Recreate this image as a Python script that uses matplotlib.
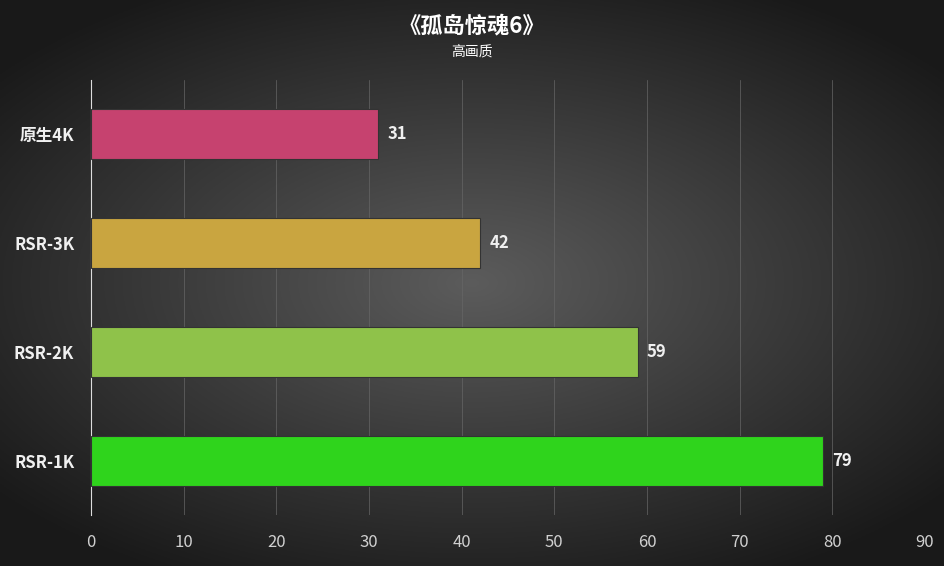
import numpy as np
import matplotlib
matplotlib.use("Agg")
import matplotlib.pyplot as plt

plt.rcParams['font.family'] = ['Noto Sans CJK SC', 'DejaVu Sans']

categories = ["RSR-1K", "RSR-2K", "RSR-3K", "原生4K"]
values = [79, 59, 42, 31]
colors = ["#2fd41c", "#8fc24a", "#c9a540", "#c6426f"]
xticks = [0, 10, 20, 30, 40, 50, 60, 70, 80, 90]

fig = plt.figure(figsize=(9.44, 5.66), dpi=100)
bg = fig.add_axes([0, 0, 1, 1], zorder=-10)
yy, xx = np.mgrid[-1:1:300j, -1:1:500j]
r = np.sqrt((xx / 1.1) ** 2 + (yy / 1.0) ** 2)
g = np.clip(0.36 - 0.22 * r, 0.1, 0.4)
bg.imshow(np.dstack([g, g, g]), aspect='auto', extent=[0, 1, 0, 1])
bg.axis('off')

ax = fig.add_axes([0.0964, 0.0901, 0.8835, 0.7686])
ax.set_facecolor('none')
ypos = np.arange(len(categories))
ax.barh(ypos, values, height=0.46, color=colors, edgecolor='#333333', linewidth=0.8, zorder=3)
for y, v in zip(ypos, values):
    ax.text(v + 1, y, str(v), va='center', ha='left', color='#f0f0f0', fontsize=12, fontweight='bold')
ax.set_xlim(0, 90)
ax.set_ylim(-0.5, 3.5)
ax.set_xticks(xticks)
ax.set_yticks(ypos)
ax.set_yticklabels(categories, fontsize=12, fontweight='bold', color='#f0f0f0')
ax.tick_params(axis='x', colors='#d0d0d0', labelsize=12, length=0, pad=14)
ax.tick_params(axis='y', length=0, pad=12)
ax.grid(axis='x', color='#666666', linewidth=0.5, zorder=0)
for s in ['top', 'right', 'bottom']:
    ax.spines[s].set_visible(False)
ax.spines['left'].set_color('#dddddd')

fig.text(0.5, 0.955, "《孤岛惊魂6》", ha='center', va='center', color='white', fontsize=16, fontweight='bold')
fig.text(0.5, 0.908, "高画质", ha='center', va='center', color='white', fontsize=10)

fig.savefig("out.png", dpi=100)
